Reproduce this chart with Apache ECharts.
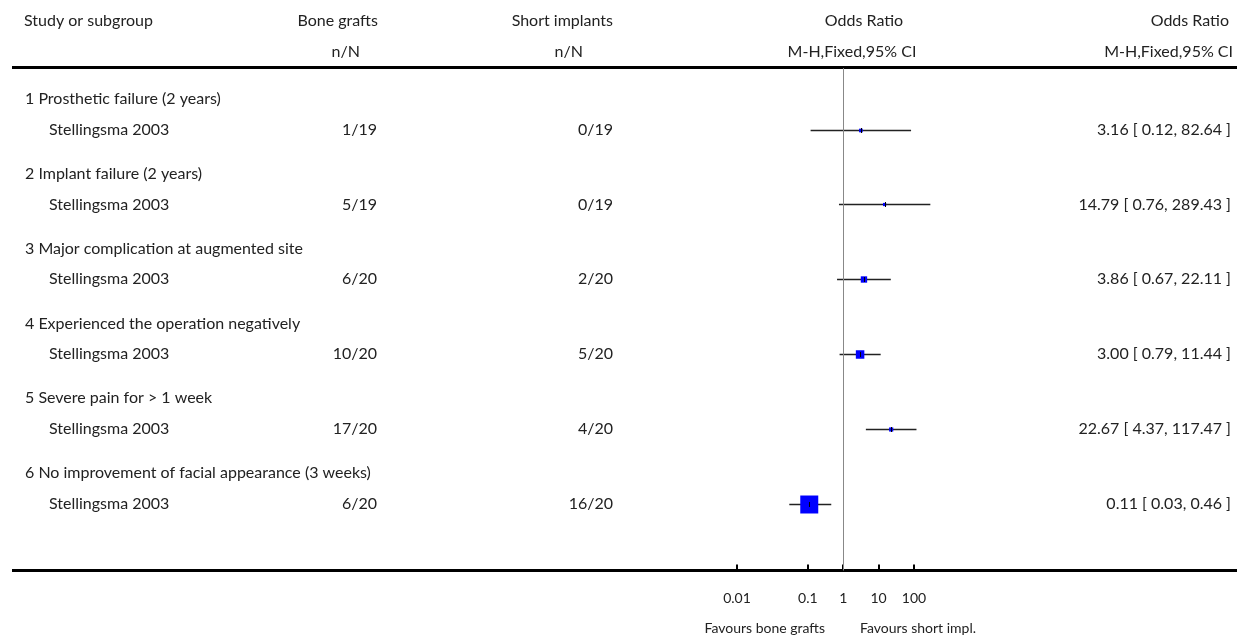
<!DOCTYPE html>
<html><head><meta charset="utf-8">
<script src="https://cdn.jsdelivr.net/npm/echarts@6/dist/echarts.min.js"></script>
<style>html,body{margin:0;padding:0;background:#fff}#c{width:1237px;height:636px}</style>
</head><body><div id="c"></div>
<script>
const groups = ['1 Prosthetic failure (2 years)','2 Implant failure (2 years)','3 Major complication at augmented site','4 Experienced the operation negatively','5 Severe pain for > 1 week','6 No improvement of facial appearance (3 weeks)'];
const studies = ['Stellingsma 2003','Stellingsma 2003','Stellingsma 2003','Stellingsma 2003','Stellingsma 2003','Stellingsma 2003'];
const boneEvents = [1,5,6,10,17,6];
const boneTotal = [19,19,20,20,20,20];
const shortEvents = [0,0,2,5,4,16];
const shortTotal = [19,19,20,20,20,20];
const oddsRatio = [3.16,14.79,3.86,3.00,22.67,0.11];
const ciLower = [0.12,0.76,0.67,0.79,4.37,0.03];
const ciUpper = [82.64,289.43,22.11,11.44,117.47,0.46];
const tickValues = [0.001,0.1,1,10,100];
const tickLabels = ['0.01','0.1','1','10','100'];

// Mantel-Haenszel weights (b*c/N), 0.5 correction when a zero cell occurs
function mhWeight(i){
  let a=boneEvents[i], b=boneTotal[i]-a, c=shortEvents[i], d=shortTotal[i]-c;
  if(a===0||b===0||c===0||d===0){a+=.5;b+=.5;c+=.5;d+=.5;}
  return b*c/(a+b+c+d);
}

const FONT = 'Lato';
const TXT = '#222';
const FS = 16;
const ROW_GAP = 2, HEAD_OFF = 0.83, STUDY_OFF = 1.65;

const rows = groups.map((g,i)=>[i]);

function txt(x,y,text,align,size){
  return {type:'text',style:{x:x,y:y,text:text,fill:TXT,font:(size||FS)+'px '+FONT,textAlign:align||'left',textVerticalAlign:'middle'}};
}

const chart = echarts.init(document.getElementById('c'),null,{renderer:'canvas'});
chart.setOption({
  animation:false,
  grid:{left:737,right:323,top:68,bottom:65.5,containLabel:false},
  xAxis:{type:'log',logBase:10,min:0.001,max:100,position:'bottom',
    axisLine:{show:false,onZero:false},
    splitLine:{show:false},
    axisTick:{show:true,inside:true,length:6,customValues:tickValues,lineStyle:{color:'#000',width:2}},
    axisLabel:{show:true,customValues:tickValues,margin:21,color:TXT,fontFamily:FONT,fontSize:14,
      formatter:function(v){const k=tickValues.findIndex(t=>Math.abs(Math.log10(t)-Math.log10(v))<1e-6);return k>=0?tickLabels[k]:'';}}
  },
  yAxis:{type:'value',min:0,max:13.44,inverse:true,show:false},
  series:[{
    type:'custom',clip:false,coordinateSystem:'cartesian2d',
    data:rows,
    encode:{x:-1,y:0},
    renderItem:function(params,api){
      const i=api.value(0);
      const yh=api.coord([1,HEAD_OFF+ROW_GAP*i])[1];
      const ys=api.coord([1,STUDY_OFF+ROW_GAP*i])[1];
      const xl=api.coord([ciLower[i],0])[0];
      const xu=api.coord([ciUpper[i],0])[0];
      const xo=api.coord([oddsRatio[i],0])[0];
      const side=7.6*Math.sqrt(mhWeight(i));
      const yy=Math.round(ys)+0.5;
      return {type:'group',children:[
        txt(25,yh,groups[i]),
        txt(49,ys,studies[i]),
        txt(377,ys,boneEvents[i]+'/'+boneTotal[i],'right'),
        txt(613,ys,shortEvents[i]+'/'+shortTotal[i],'right'),
        txt(1231,ys,oddsRatio[i].toFixed(2)+' [ '+ciLower[i].toFixed(2)+', '+ciUpper[i].toFixed(2)+' ]','right'),
        {type:'line',shape:{x1:xl,y1:yy,x2:xu,y2:yy},style:{stroke:'#222',lineWidth:1.4}},
        {type:'rect',shape:{x:xo-side/2,y:yy-side/2,width:side,height:side},style:{fill:'#0000ff'}},
        {type:'line',shape:{x1:Math.round(xo)+0.5,y1:yy-2.5,x2:Math.round(xo)+0.5,y2:yy+2.5},style:{stroke:'#000',lineWidth:1}}
      ]};
    },
    markLine:{silent:true,symbol:'none',label:{show:false},lineStyle:{color:'#888',width:1,type:'solid'},data:[{xAxis:1}]},
    z:3
  }],
  graphic:[
    {type:'line',shape:{x1:12,y1:67.5,x2:1237,y2:67.5},style:{stroke:'#000',lineWidth:3}},
    {type:'line',shape:{x1:12,y1:570.5,x2:1237,y2:570.5},style:{stroke:'#000',lineWidth:3}},
    txt(24,21,'Study or subgroup'),
    txt(378,21,'Bone grafts','right'),
    txt(360,52,'n/N','right'),
    txt(613,21,'Short implants','right'),
    txt(583,52,'n/N','right'),
    txt(864,21,'Odds Ratio','center'),
    txt(852,52,'M-H,Fixed,95% CI','center'),
    txt(1229,21,'Odds Ratio','right'),
    txt(1233,52,'M-H,Fixed,95% CI','right'),
    txt(825,628,'Favours bone grafts','right',14),
    txt(860,628,'Favours short impl.','left',14)
  ]
});
</script></body></html>
